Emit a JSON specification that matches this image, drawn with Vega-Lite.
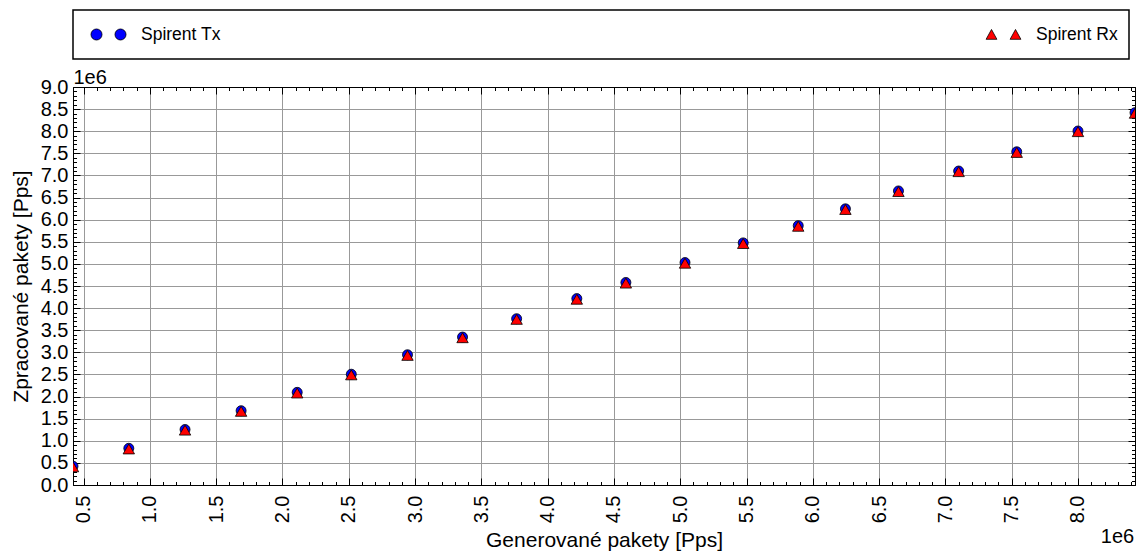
{
  "$schema": "https://vega.github.io/schema/vega-lite/v6.json",
  "width": 1062,
  "height": 398,
  "autosize": "none",
  "padding": {"left": 73, "top": 87, "right": 8, "bottom": 69},
  "background": "white",
  "datasets": {
    "tx": [
      {"gen": 420000, "pps": 425000, "series": "Spirent Tx"},
      {"gen": 841000, "pps": 830000, "series": "Spirent Tx"},
      {"gen": 1265000, "pps": 1255000, "series": "Spirent Tx"},
      {"gen": 1688000, "pps": 1680000, "series": "Spirent Tx"},
      {"gen": 2111000, "pps": 2095000, "series": "Spirent Tx"},
      {"gen": 2519000, "pps": 2505000, "series": "Spirent Tx"},
      {"gen": 2943000, "pps": 2945000, "series": "Spirent Tx"},
      {"gen": 3358000, "pps": 3345000, "series": "Spirent Tx"},
      {"gen": 3766000, "pps": 3760000, "series": "Spirent Tx"},
      {"gen": 4220000, "pps": 4215000, "series": "Spirent Tx"},
      {"gen": 4590000, "pps": 4580000, "series": "Spirent Tx"},
      {"gen": 5036000, "pps": 5030000, "series": "Spirent Tx"},
      {"gen": 5475000, "pps": 5475000, "series": "Spirent Tx"},
      {"gen": 5890000, "pps": 5865000, "series": "Spirent Tx"},
      {"gen": 6246000, "pps": 6245000, "series": "Spirent Tx"},
      {"gen": 6646000, "pps": 6650000, "series": "Spirent Tx"},
      {"gen": 7100000, "pps": 7100000, "series": "Spirent Tx"},
      {"gen": 7538000, "pps": 7535000, "series": "Spirent Tx"},
      {"gen": 8000000, "pps": 8005000, "series": "Spirent Tx"},
      {"gen": 8430000, "pps": 8420000, "series": "Spirent Tx"}
    ],
    "rx": [
      {"gen": 420000, "pps": 410000, "series": "Spirent Rx"},
      {"gen": 841000, "pps": 815000, "series": "Spirent Rx"},
      {"gen": 1265000, "pps": 1240000, "series": "Spirent Rx"},
      {"gen": 1688000, "pps": 1665000, "series": "Spirent Rx"},
      {"gen": 2111000, "pps": 2080000, "series": "Spirent Rx"},
      {"gen": 2519000, "pps": 2490000, "series": "Spirent Rx"},
      {"gen": 2943000, "pps": 2930000, "series": "Spirent Rx"},
      {"gen": 3358000, "pps": 3330000, "series": "Spirent Rx"},
      {"gen": 3766000, "pps": 3745000, "series": "Spirent Rx"},
      {"gen": 4220000, "pps": 4200000, "series": "Spirent Rx"},
      {"gen": 4590000, "pps": 4565000, "series": "Spirent Rx"},
      {"gen": 5036000, "pps": 5015000, "series": "Spirent Rx"},
      {"gen": 5475000, "pps": 5460000, "series": "Spirent Rx"},
      {"gen": 5890000, "pps": 5850000, "series": "Spirent Rx"},
      {"gen": 6246000, "pps": 6230000, "series": "Spirent Rx"},
      {"gen": 6646000, "pps": 6635000, "series": "Spirent Rx"},
      {"gen": 7100000, "pps": 7085000, "series": "Spirent Rx"},
      {"gen": 7538000, "pps": 7520000, "series": "Spirent Rx"},
      {"gen": 8000000, "pps": 7990000, "series": "Spirent Rx"},
      {"gen": 8430000, "pps": 8405000, "series": "Spirent Rx"}
    ]
  },
  "resolve": {"axis": {"x": "independent", "y": "independent"}},
  "config": {
    "view": {"stroke": "black", "strokeWidth": 1},
    "font": "Liberation Sans"
  },
  "layer": [
    {
      "data": {"name": "tx"},
      "mark": {"type": "point", "filled": true, "shape": "circle", "size": 100, "stroke": "black", "strokeWidth": 0.8, "opacity": 1, "clip": true},
      "encoding": {
        "x": {
          "field": "gen", "type": "quantitative",
          "scale": {"domain": [420000, 8430000], "nice": false, "zero": false},
          "axis": {
            "orient": "bottom",
            "values": [500000,600000,700000,800000,900000,1000000,1100000,1200000,1300000,1400000,1500000,1600000,1700000,1800000,1900000,2000000,2100000,2200000,2300000,2400000,2500000,2600000,2700000,2800000,2900000,3000000,3100000,3200000,3300000,3400000,3500000,3600000,3700000,3800000,3900000,4000000,4100000,4200000,4300000,4400000,4500000,4600000,4700000,4800000,4900000,5000000,5100000,5200000,5300000,5400000,5500000,5600000,5700000,5800000,5900000,6000000,6100000,6200000,6300000,6400000,6500000,6600000,6700000,6800000,6900000,7000000,7100000,7200000,7300000,7400000,7500000,7600000,7700000,7800000,7900000,8000000,8100000,8200000,8300000,8400000],
            "labelExpr": "datum.value % 500000 === 0 ? format(datum.value / 1000000, '.1f') : ''",
            "labelAngle": -90, "labelAlign": "right", "labelBaseline": "middle", "labelPadding": 17,
            "labelFont": "Liberation Sans", "labelFontSize": 20, "labelColor": "black",
            "labelOverlap": false, "labelFlush": false, "labelBound": false,
            "tickSize": {"expr": "datum.value % 500000 === 0 ? -7 : -3.5"}, "tickColor": "black", "tickWidth": 1,
            "grid": true, "gridColor": "#999999", "gridWidth": 1,
            "gridOpacity": {"condition": {"test": "datum.value % 500000 === 0", "value": 1}, "value": 0},
            "domain": true, "domainColor": "black", "domainWidth": 1,
            "title": "Generované pakety [Pps]",
            "titleFont": "Liberation Sans", "titleFontSize": 21, "titleFontWeight": "normal", "titleColor": "black",
            "titleY": 61, "titleBaseline": "alphabetic"
          }
        },
        "y": {
          "field": "pps", "type": "quantitative",
          "scale": {"domain": [0, 9000000], "nice": false, "zero": true},
          "axis": {
            "orient": "left",
            "values": [0,100000,200000,300000,400000,500000,600000,700000,800000,900000,1000000,1100000,1200000,1300000,1400000,1500000,1600000,1700000,1800000,1900000,2000000,2100000,2200000,2300000,2400000,2500000,2600000,2700000,2800000,2900000,3000000,3100000,3200000,3300000,3400000,3500000,3600000,3700000,3800000,3900000,4000000,4100000,4200000,4300000,4400000,4500000,4600000,4700000,4800000,4900000,5000000,5100000,5200000,5300000,5400000,5500000,5600000,5700000,5800000,5900000,6000000,6100000,6200000,6300000,6400000,6500000,6600000,6700000,6800000,6900000,7000000,7100000,7200000,7300000,7400000,7500000,7600000,7700000,7800000,7900000,8000000,8100000,8200000,8300000,8400000,8500000,8600000,8700000,8800000,8900000,9000000],
            "labelExpr": "datum.value % 500000 === 0 ? format(datum.value / 1000000, '.1f') : ''",
            "labelAlign": "right", "labelBaseline": "middle", "labelPadding": 12,
            "labelFont": "Liberation Sans", "labelFontSize": 20, "labelColor": "black",
            "labelOverlap": false, "labelFlush": false, "labelBound": false,
            "tickSize": {"expr": "datum.value % 500000 === 0 ? -7 : -3.5"}, "tickColor": "black", "tickWidth": 1,
            "grid": true, "gridColor": "#999999", "gridWidth": 1,
            "gridOpacity": {"condition": {"test": "datum.value % 500000 === 0", "value": 1}, "value": 0},
            "domain": true, "domainColor": "black", "domainWidth": 1,
            "title": "Zpracované pakety [Pps]",
            "titleFont": "Liberation Sans", "titleFontSize": 21, "titleFontWeight": "normal", "titleColor": "black",
            "titleAngle": -90, "titleX": -46, "titleY": 199, "titleAlign": "center", "titleBaseline": "alphabetic"
          }
        },
        "color": {
          "field": "series", "type": "nominal",
          "scale": {"domain": ["Spirent Tx", "Spirent Rx"], "range": ["#0000ff", "#ff0000"]},
          "legend": {
            "title": null, "orient": "none", "legendX": 0, "legendY": -77,
            "direction": "horizontal", "columns": 2, "columnPadding": 758,
            "padding": 11, "clipHeight": 27, "strokeColor": "black", "fillColor": "white",
            "symbolSize": 576, "symbolOffset": 12, "labelOffset": 20,
            "labelFont": "Liberation Sans", "labelFontSize": 17.5, "labelColor": "black", "labelLimit": 0,
            "symbolStrokeColor": "black", "symbolStrokeWidth": 0.8, "symbolOpacity": 1,
            "encode": {
              "legend": {"update": {"strokeWidth": {"value": 1.5}}},
              "symbols": {"update": {
                "shape": {"signal": "datum.value === 'Spirent Tx' ? 'M-1.46,0A0.46,0.46,0,1,0,-0.54,0A0.46,0.46,0,1,0,-1.46,0ZM0.54,0A0.46,0.46,0,1,0,1.46,0A0.46,0.46,0,1,0,0.54,0Z' : 'M-1,-0.42L-0.55,0.4L-1.45,0.4ZM1,-0.42L1.45,0.4L0.55,0.4Z'"},
                "stroke": {"value": "black"},
                "strokeWidth": {"value": 0.8},
                "opacity": {"value": 1}
              }}
            }
          }
        }
      }
    },
    {
      "data": {"name": "rx"},
      "mark": {"type": "point", "filled": true, "shape": "triangle-up", "size": 130, "stroke": "black", "strokeWidth": 0.8, "opacity": 1, "clip": true},
      "encoding": {
        "x": {
          "field": "gen", "type": "quantitative",
          "axis": {
            "orient": "top",
            "values": [500000,600000,700000,800000,900000,1000000,1100000,1200000,1300000,1400000,1500000,1600000,1700000,1800000,1900000,2000000,2100000,2200000,2300000,2400000,2500000,2600000,2700000,2800000,2900000,3000000,3100000,3200000,3300000,3400000,3500000,3600000,3700000,3800000,3900000,4000000,4100000,4200000,4300000,4400000,4500000,4600000,4700000,4800000,4900000,5000000,5100000,5200000,5300000,5400000,5500000,5600000,5700000,5800000,5900000,6000000,6100000,6200000,6300000,6400000,6500000,6600000,6700000,6800000,6900000,7000000,7100000,7200000,7300000,7400000,7500000,7600000,7700000,7800000,7900000,8000000,8100000,8200000,8300000,8400000],
            "labels": false, "grid": false,
            "tickSize": {"expr": "datum.value % 500000 === 0 ? -7 : -3.5"}, "tickColor": "black", "tickWidth": 1,
            "domain": true, "domainColor": "black", "domainWidth": 1,
            "title": "1e6",
            "titleFont": "Liberation Sans", "titleFontSize": 20, "titleFontWeight": "normal", "titleColor": "black",
            "titleX": 0, "titleY": -4, "titleAlign": "left", "titleBaseline": "alphabetic", "titleAngle": 0
          }
        },
        "y": {
          "field": "pps", "type": "quantitative",
          "axis": {
            "orient": "right",
            "values": [0,100000,200000,300000,400000,500000,600000,700000,800000,900000,1000000,1100000,1200000,1300000,1400000,1500000,1600000,1700000,1800000,1900000,2000000,2100000,2200000,2300000,2400000,2500000,2600000,2700000,2800000,2900000,3000000,3100000,3200000,3300000,3400000,3500000,3600000,3700000,3800000,3900000,4000000,4100000,4200000,4300000,4400000,4500000,4600000,4700000,4800000,4900000,5000000,5100000,5200000,5300000,5400000,5500000,5600000,5700000,5800000,5900000,6000000,6100000,6200000,6300000,6400000,6500000,6600000,6700000,6800000,6900000,7000000,7100000,7200000,7300000,7400000,7500000,7600000,7700000,7800000,7900000,8000000,8100000,8200000,8300000,8400000,8500000,8600000,8700000,8800000,8900000,9000000],
            "labels": false, "grid": false,
            "tickSize": {"expr": "datum.value % 500000 === 0 ? -7 : -3.5"}, "tickColor": "black", "tickWidth": 1,
            "domain": true, "domainColor": "black", "domainWidth": 1,
            "title": "1e6",
            "titleFont": "Liberation Sans", "titleFontSize": 20, "titleFontWeight": "normal", "titleColor": "black",
            "titleX": -18, "titleY": 455, "titleAlign": "center", "titleBaseline": "alphabetic", "titleAngle": 0
          }
        },
        "color": {
          "field": "series", "type": "nominal",
          "scale": {"domain": ["Spirent Tx", "Spirent Rx"], "range": ["#0000ff", "#ff0000"]}
        }
      }
    }
  ]
}
